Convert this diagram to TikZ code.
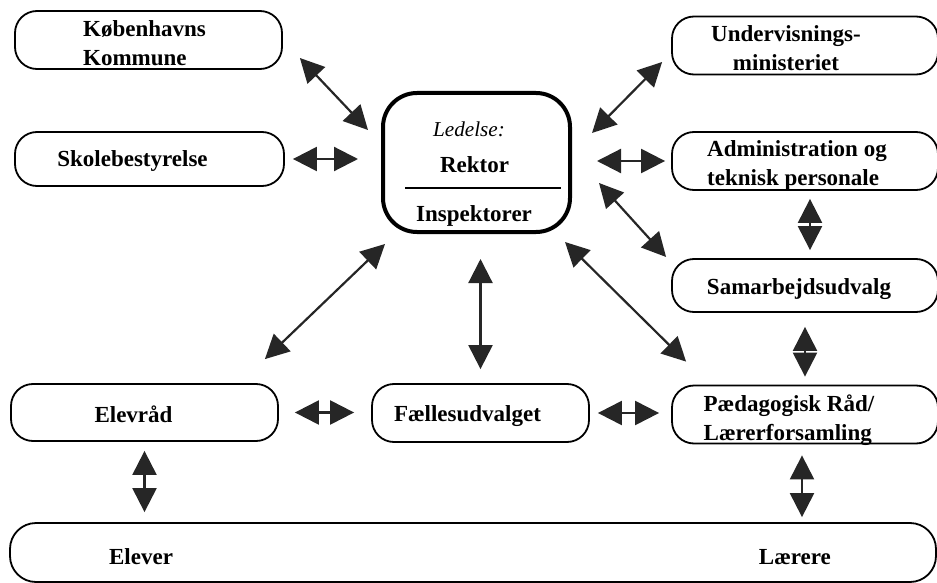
\documentclass[tikz,border=0pt]{standalone}
\usepackage{fontspec}
\setmainfont{Liberation Serif}
\usepackage{tikz}
\usetikzlibrary{arrows.meta, calc}
\setlength\arrayrulewidth{0.9pt}
\newcommand\nudge[3]{\raisebox{#2}[\height][\depth]{\hspace*{#1}#3\hspace*{-#1}}}

\begin{document}
\begin{tikzpicture}[
    x=0.5pt, y=-0.5pt,
    box/.style={rectangle, rounded corners=11pt, draw, line width=0.9pt, minimum height=27pt, inner sep=0pt, font=\fontsize{11.5}{14.5}\selectfont\bfseries},
    ledbox/.style={box, rounded corners=17pt, line width=2pt},
    arrow/.style={{Triangle[length=12pt,width=12pt]}-{Triangle[length=12pt,width=12pt]}, line width=1.1pt, draw=black!85}
]
    \useasboundingbox (0,0) rectangle (937,583);

    \node[box, minimum width=133.5pt] (kk) at (148.5,40) {\nudge{-2pt}{-2.5pt}{\begin{tabular}{@{}l@{}}Københavns\\Kommune\end{tabular}}};
    \node[box, minimum width=134.5pt] (skole) at (149.5,159) {\nudge{-8.5pt}{-1pt}{Skolebestyrelse}};
    \node[ledbox, minimum width=93.5pt, minimum height=69.5pt] (led) at (476.5,162.5) {\nudge{3.25pt}{-5.15pt}{\begin{tabular}{@{}c@{}}\makebox[78pt]{\fontsize{10.6}{14.5}\selectfont\mdseries\itshape Ledelse:\hspace*{14pt}}\\[3.5pt]Rektor\hspace*{8.5pt}\\[3pt]\hline\rule{0pt}{16.3pt}Inspektorer\hspace*{9pt}\end{tabular}}};

    \node[box, minimum width=133pt, minimum height=27.5pt] (under) at (805,45.5) {\nudge{-9.5pt}{-2.5pt}{\begin{tabular}{@{}c@{}}Undervisnings-\\ministeriet\end{tabular}}};
    \node[box, minimum width=133pt, minimum height=26pt] (admin) at (805,161) {\nudge{-4pt}{-2pt}{\begin{tabular}{@{}l@{}}Administration og\\teknisk personale\end{tabular}}};
    \node[box, minimum width=133pt, minimum height=26.5pt] (samarb) at (805,285.5) {\nudge{-3pt}{-2pt}{Samarbejdsudvalg}};

    \node[box, minimum width=133.5pt, minimum height=28.5pt] (elevraad) at (144.5,412.5) {\nudge{-5.5pt}{-1pt}{Elevråd}};
    \node[box, minimum width=108.5pt, minimum height=29pt] (faelles) at (480.5,413) {\nudge{-6.5pt}{-1.5pt}{Fællesudvalget}};
    \node[box, minimum width=133pt, minimum height=27.5pt] (paed) at (805,414.5) {\nudge{-8pt}{-3pt}{\begin{tabular}{@{}l@{}}Pædagogisk Råd/\\Lærerforsamling\end{tabular}}};

    \node[box, minimum width=463pt, minimum height=29.5pt, rounded corners=13pt] (alle) at (473,552.5) {\nudge{-1.5pt}{-2pt}{Elever\hspace{293pt}Lærere}};

    \draw[arrow] ($(kk.east)+(17,18)$) -- ($(led.north west)+(-13,39)$);
    \draw[arrow, shorten <=4pt, shorten >=11.5pt] (skole.east) -- (skole.east -| led.west);
    \draw[arrow] ($(under.west)+(-9,16.5)$) -- ($(led.north east)+(20,42)$);
    \draw[arrow, shorten <=12.5pt, shorten >=3pt] (admin.west -| led.east) -- (admin.west);
    \draw[arrow] ($(led.east)+(27,20.5)$) -- ($(samarb.west)+(-5,-28.5)$);
    \draw[arrow, shorten <=4pt, shorten >=4pt] ([xshift=2.5pt]admin.south) -- ([xshift=2.5pt]samarb.north);
    \draw[arrow] ($(led.south west)+(4,10)$) -- ($(elevraad.north east)+(-14,-24)$);
    \draw[arrow, shorten <=12.5pt, shorten >=7pt] (faelles.north |- led.south) -- (faelles.north);
    \draw[arrow] ($(led.south east)+(-7,8)$) -- ($(paed.north west)+(15,-23)$);
    \draw[arrow, shorten <=7pt, shorten >=4pt] (samarb.south) -- (paed.north);
    \draw[arrow, shorten <=8pt, shorten >=8.5pt] (elevraad.east) -- (elevraad.east -| faelles.west);
    \draw[arrow, shorten <=4pt, shorten >=6pt] (faelles.east) -- (faelles.east -| paed.west);
    \draw[arrow, shorten <=4.5pt, shorten >=5pt] (elevraad.south) -- (elevraad.south |- alle.north);
    \draw[arrow, shorten <=5.5pt, shorten >=2.5pt] ([xshift=-1.5pt]paed.south) -- ([xshift=-1.5pt]paed.south |- alle.north);
\end{tikzpicture}
\end{document}
